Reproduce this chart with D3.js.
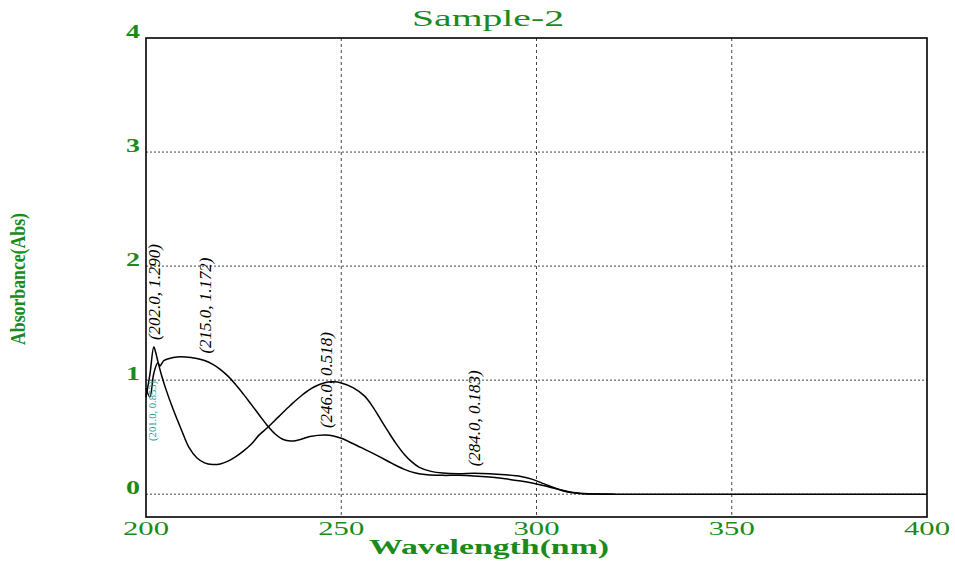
<!DOCTYPE html>
<html>
<head>
<meta charset="utf-8">
<script src="https://cdn.jsdelivr.net/npm/d3@7"></script>
<style>
  html, body { margin: 0; padding: 0; background: #fff; }
  svg { display: block; }
  text { font-family: "Liberation Serif", "DejaVu Serif", serif; }
</style>
</head>
<body>
<svg id="chart" width="955" height="561"></svg>
<script>
// Absorbance spectra, wavelength (nm) vs absorbance (Abs)
const wavelengthA = [200, 201, 202, 203, 203.6, 204.5, 206, 208, 210, 213, 215, 217, 219, 221, 223, 225, 227, 229, 231, 233, 235, 237, 239, 242, 246, 248, 250, 252, 255, 258, 260, 263, 266, 269, 272, 276, 280, 284, 288, 292, 296, 300, 303, 306, 309, 312, 316, 320];
const absorbanceA = [0.93, 0.853, 1.06, 1.15, 1.125, 1.17, 1.19, 1.203, 1.203, 1.19, 1.172, 1.14, 1.095, 1.035, 0.96, 0.875, 0.785, 0.695, 0.605, 0.53, 0.482, 0.466, 0.475, 0.505, 0.518, 0.51, 0.49, 0.46, 0.41, 0.36, 0.325, 0.27, 0.22, 0.185, 0.17, 0.165, 0.165, 0.16, 0.15, 0.135, 0.115, 0.09, 0.065, 0.04, 0.018, 0.006, 0.002, 0.0];

const wavelengthB = [200, 201, 202, 202.5, 203, 204, 205, 207, 209, 211, 213, 215, 217, 219, 221, 223, 225, 227, 229, 231, 234, 237, 240, 243, 246, 248, 250, 253, 256, 258, 260, 262, 264, 266, 268, 270, 273, 276, 280, 284, 288, 292, 296, 299, 302, 305, 308, 311, 315, 320, 340, 360, 380, 400];
const absorbanceB = [0.85, 1.05, 1.29, 1.24, 1.17, 1.04, 0.93, 0.74, 0.57, 0.41, 0.32, 0.275, 0.26, 0.265, 0.29, 0.33, 0.38, 0.44, 0.52, 0.58, 0.68, 0.78, 0.87, 0.94, 0.98, 0.985, 0.975, 0.935, 0.86, 0.77, 0.66, 0.55, 0.445, 0.355, 0.285, 0.235, 0.2, 0.185, 0.18, 0.183, 0.18, 0.17, 0.155, 0.13, 0.09, 0.05, 0.02, 0.007, 0.002, 0.0, 0.0, 0.0, 0.0, 0.0];

// Peak annotations (wavelength, absorbance)
const peakWavelengths = [202.0, 215.0, 246.0, 284.0];
const peakValues = [1.290, 1.172, 0.518, 0.183];
const valleyWavelengths = [201.0];
const valleyValues = [0.853];

const xTicks = [200, 250, 300, 350, 400];
const yTicks = [0, 1, 2, 3, 4];

const titleText = "Sample-2";
const xTitle = "Wavelength(nm)";
const yTitle = "Absorbance(Abs)";

const green = "#1a8a1a";
const svg = d3.select("#chart");
const plot = { left: 146, right: 927, top: 38, bottom: 517 };

const x = d3.scaleLinear().domain([200, 400]).range([plot.left, plot.right]);
const y = d3.scaleLinear().domain([-0.2, 4]).range([plot.bottom, plot.top]);

// grid
svg.append("g").selectAll("line")
  .data(xTicks.slice(1, -1))
  .join("line")
  .attr("x1", d => x(d)).attr("x2", d => x(d))
  .attr("y1", plot.top).attr("y2", plot.bottom)
  .attr("stroke", "#444").attr("stroke-width", 1)
  .attr("stroke-dasharray", "3,3");

svg.append("g").selectAll("line")
  .data(yTicks.slice(0, -1))
  .join("line")
  .attr("x1", plot.left).attr("x2", plot.right)
  .attr("y1", d => y(d)).attr("y2", d => y(d))
  .attr("stroke", "#444").attr("stroke-width", 1)
  .attr("stroke-dasharray", "2,2");

// frame
svg.append("rect")
  .attr("x", plot.left).attr("y", plot.top)
  .attr("width", plot.right - plot.left).attr("height", plot.bottom - plot.top)
  .attr("fill", "none").attr("stroke", "#000").attr("stroke-width", 1.6);

// tick labels
svg.append("g").selectAll("text")
  .data(xTicks)
  .join("text")
  .attr("x", d => x(d)).attr("y", 535)
  .attr("text-anchor", "middle")
  .attr("fill", green).attr("font-size", 19)
  .attr("textLength", 46).attr("lengthAdjust", "spacingAndGlyphs")
  .text(d => d);

svg.append("g").selectAll("text")
  .data(yTicks)
  .join("text")
  .attr("x", 133).attr("y", d => y(d))
  .attr("text-anchor", "middle")
  .attr("fill", green).attr("font-size", 19).attr("font-weight", "bold")
  .attr("textLength", 14).attr("lengthAdjust", "spacingAndGlyphs")
  .text(d => d);

// titles
svg.append("text")
  .attr("x", 488).attr("y", 26)
  .attr("text-anchor", "middle")
  .attr("fill", green).attr("font-size", 23)
  .attr("textLength", 152).attr("lengthAdjust", "spacingAndGlyphs")
  .text(titleText);

svg.append("text")
  .attr("x", 489).attr("y", 554)
  .attr("text-anchor", "middle")
  .attr("fill", green).attr("font-size", 20).attr("font-weight", "bold")
  .attr("textLength", 240).attr("lengthAdjust", "spacingAndGlyphs")
  .text(xTitle);

svg.append("text")
  .attr("transform", "translate(25,279) rotate(-90)")
  .attr("text-anchor", "middle")
  .attr("fill", green).attr("font-size", 21).attr("font-weight", "bold")
  .attr("textLength", 132).attr("lengthAdjust", "spacingAndGlyphs")
  .text(yTitle);

// spectra
const line = d3.line().x(d => x(d[0])).y(d => y(d[1])).curve(d3.curveCatmullRom.alpha(0.5));
const seriesA = wavelengthA.map((w, i) => [w, absorbanceA[i]]);
const seriesB = wavelengthB.map((w, i) => [w, absorbanceB[i]]);

[seriesA, seriesB].forEach(s => {
  svg.append("path")
    .datum(s)
    .attr("d", line)
    .attr("fill", "none")
    .attr("stroke", "#000")
    .attr("stroke-width", 1.5);
});

// peak labels
const fmt = (w, v) => `(${w.toFixed(1)}, ${v.toFixed(3)})`;
svg.append("g").selectAll("text")
  .data(peakWavelengths.map((w, i) => [w, peakValues[i]]))
  .join("text")
  .attr("transform", d => `translate(${x(d[0]) + 6},${y(d[1]) - 7}) rotate(-90)`)
  .attr("fill", "#000").attr("font-size", 16).attr("font-style", "italic")
  .attr("textLength", 96).attr("lengthAdjust", "spacingAndGlyphs")
  .text(d => fmt(d[0], d[1]));

// valley labels
svg.append("g").selectAll("text")
  .data(valleyWavelengths.map((w, i) => [w, valleyValues[i]]))
  .join("text")
  .attr("transform", d => `translate(${x(d[0]) + 6},${y(d[1]) + 44}) rotate(-90)`)
  .attr("fill", "#2a9d9d").attr("font-size", 11)
  .attr("textLength", 60).attr("lengthAdjust", "spacingAndGlyphs")
  .text(d => fmt(d[0], d[1]));
</script>
</body>
</html>
